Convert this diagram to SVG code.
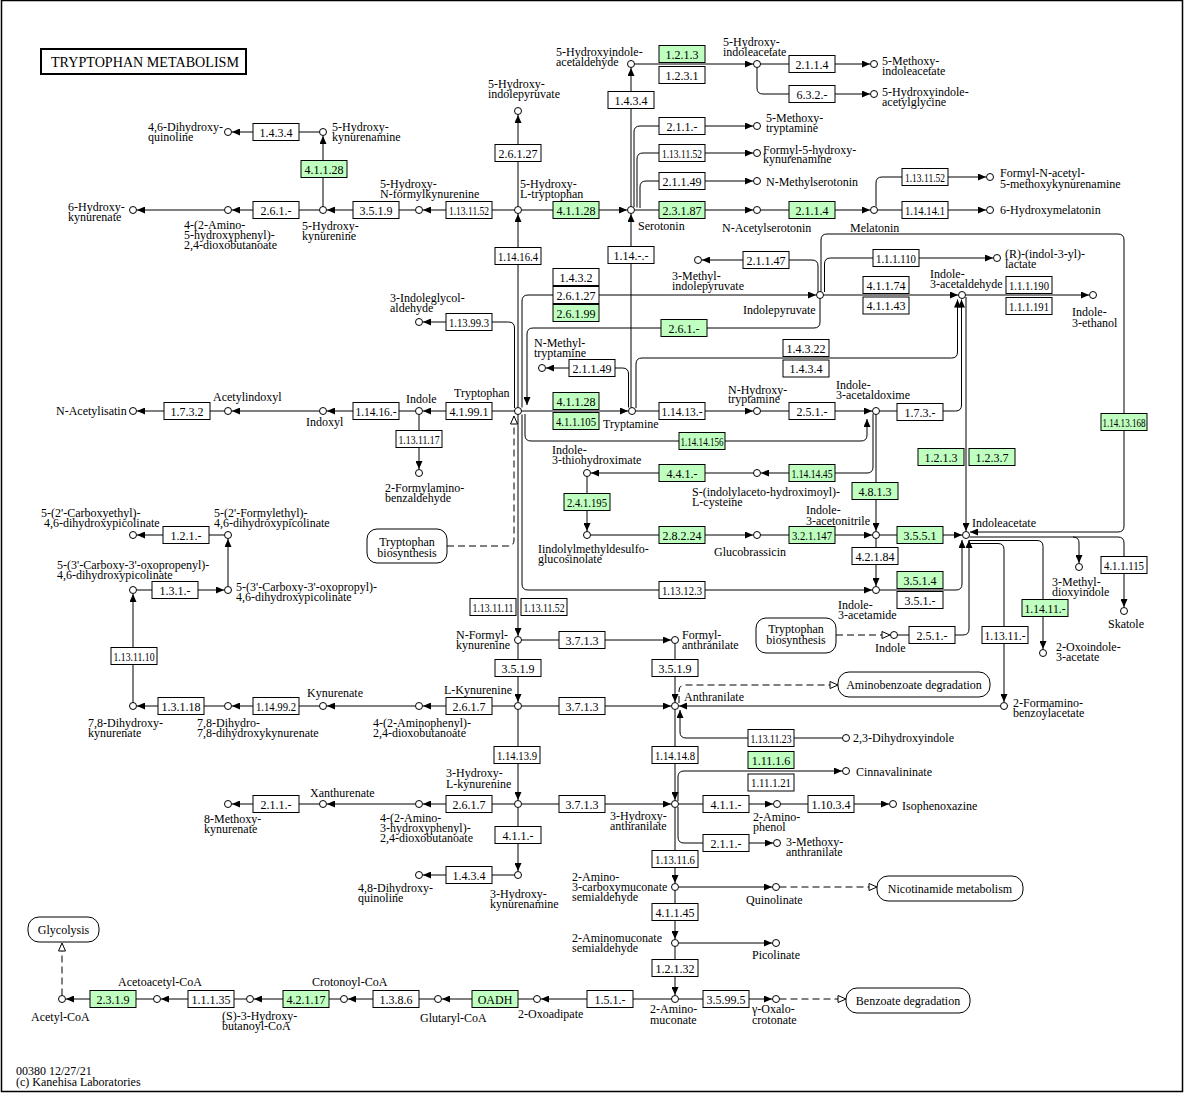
<svg xmlns="http://www.w3.org/2000/svg" width="1185" height="1093" viewBox="0 0 1185 1093">
<style>
text{font-family:"Liberation Serif","Times New Roman",serif;font-size:12px;fill:#000}
.n rect{fill:#fff;stroke:#000;stroke-width:1}
.n.g rect{fill:#bfffbf}
.n text{text-anchor:middle}
.c circle{fill:#fff;stroke:#000;stroke-width:1}
.m rect{fill:#fff;stroke:#000;stroke-width:1}
.m text{text-anchor:middle}
.l{fill:none;stroke:#000;stroke-width:1}
.d{stroke-dasharray:7,4}
.a{marker-end:url(#a)}
.o{marker-end:url(#o)}
</style>
<defs>
<marker id="a" viewBox="0 0 8 7" refX="8" refY="3.5" markerWidth="8" markerHeight="7" markerUnits="userSpaceOnUse" orient="auto"><path d="M0,0L8,3.5L0,7z" fill="#000"/></marker>
<marker id="o" viewBox="-1 -1 10 9" refX="8" refY="3.5" markerWidth="10" markerHeight="9" markerUnits="userSpaceOnUse" orient="auto"><path d="M0,0L8,3.5L0,7z" fill="#fff" stroke="#000" stroke-width="1"/></marker>
</defs>
<rect x="1.5" y="0.5" width="1181" height="1091" fill="#fff" stroke="#000" stroke-width="1.5"/>
<g id="title"><rect x="41" y="49" width="205" height="25" fill="#fff" stroke="#000" stroke-width="2"/><text x="51" y="67" style="font-size:14px" textLength="188" lengthAdjust="spacingAndGlyphs">TRYPTOPHAN METABOLISM</text></g>
<g id="connectors">
<path class="l a" d="M253,132H232"/>
<path class="l" d="M299,132H319.5"/>
<path class="l a" d="M323,206.5V136"/>
<path class="l a" d="M253,210H232"/>
<path class="l" d="M299,210H319.5"/>
<path class="l a" d="M224.5,210H137"/>
<path class="l a" d="M353,210H327"/>
<path class="l" d="M399,210H415.5"/>
<path class="l a" d="M446,210H423"/>
<path class="l" d="M492,210H514.5"/>
<path class="l a" d="M518,407.5V214"/>
<path class="l a" d="M518,206.5V115"/>
<path class="l a" d="M521.5,210H627"/>
<path class="l a" d="M631,206.5V68"/>
<path class="l a" d="M634.5,64H753"/>
<path class="l a" d="M760.5,64H870"/>
<path class="l a" d="M757,67.5V88Q757,94 763,94H870"/>
<path class="l a" d="M634,207V132Q634,126 640,126H753"/>
<path class="l a" d="M637,207.5V159Q637,153 643,153H753"/>
<path class="l a" d="M640,208V187Q640,181 646,181H753"/>
<path class="l a" d="M634.5,210H753"/>
<path class="l a" d="M760.5,210H870"/>
<path class="l a" d="M877.5,210H986"/>
<path class="l a" d="M876,206.5V183Q876,177 882,177H986"/>
<path class="l a" d="M631,407.5V214"/>
<path class="l a" d="M818,292V266Q818,260 812,260H702"/>
<path class="l a" d="M821,291.5V240Q821,234 827,234H1118Q1124,234 1124,240V526Q1124,532 1118,532H970"/>
<path class="l a" d="M824.5,292V264Q824.5,258 830.5,258H993"/>
<path class="l a" d="M823.5,295H958"/>
<path class="l a" d="M965.5,295H1089"/>
<path class="l a" d="M522,407.5V301Q522,295 528,295H816"/>
<path class="l a" d="M820,298.5V322Q820,328 814,328H533Q527,328 527,334V405"/>
<path class="l a" d="M514.5,408V328Q514.5,322 508.5,322H423"/>
<path class="l a" d="M628.5,407.5V374Q628.5,368 622.5,368H546"/>
<path class="l a" d="M636,408V364Q636,358 642,358H951.5Q957.5,358 957.5,352V299.5"/>
<path class="l a" d="M521.5,411H628"/>
<path class="l a" d="M635.5,411H753"/>
<path class="l a" d="M760.5,411H872"/>
<path class="l a" d="M879.5,411H955.5Q961.5,411 961.5,405V299.5"/>
<path class="l a" d="M966,297V531"/>
<path class="l a" d="M873,414V467Q873,473 867,473H761"/>
<path class="l a" d="M753.5,473H591"/>
<path class="l a" d="M876,414.5V531"/>
<path class="l a" d="M525,414V435Q525,441 531,441H861Q867,441 867,435V419"/>
<path class="l a" d="M587,476.5V531"/>
<path class="l a" d="M590.5,535H753"/>
<path class="l a" d="M760.5,535H872"/>
<path class="l a" d="M879.5,535H962"/>
<path class="l a" d="M876,538.5V586"/>
<path class="l a" d="M522,414.5V584Q522,590 528,590H872"/>
<path class="l a" d="M879.5,590H956Q962,590 962,584V540"/>
<path class="l a" d="M897.5,635H963Q969,635 969,629V540"/>
<path class="l d o" d="M836,635H890"/>
<path class="l a" d="M969.5,537H1118Q1124,537 1124,543V607"/>
<path class="l a" d="M1073,537Q1079,537 1079,543V563"/>
<path class="l a" d="M969,540.5H1037Q1043,540.5 1043,546.5V649"/>
<path class="l a" d="M968.5,543.5H998Q1004,543.5 1004,549.5V702"/>
<path class="l a" d="M1000.5,706H679"/>
<path class="l a" d="M514.5,411H423"/>
<path class="l a" d="M415.5,411H327"/>
<path class="l a" d="M319.5,411H232"/>
<path class="l a" d="M224.5,411H137"/>
<path class="l a" d="M419,414.5V469"/>
<path class="l d o" d="M447,546H508Q514,546 514,540V416"/>
<path class="l a" d="M224.5,535H137"/>
<path class="l a" d="M228,586.5V539"/>
<path class="l a" d="M136.5,590H224"/>
<path class="l a" d="M133,702.5V594"/>
<path class="l a" d="M224.5,706H137"/>
<path class="l a" d="M319.5,706H232"/>
<path class="l a" d="M415.5,706H327"/>
<path class="l a" d="M514.5,706H423"/>
<path class="l a" d="M518,414.5V636"/>
<path class="l a" d="M521.5,640H671"/>
<path class="l a" d="M518,643.5V702"/>
<path class="l a" d="M675,643.5V702"/>
<path class="l a" d="M521.5,706H671"/>
<path class="l d o" d="M679,703V691Q679,685 685,685H838"/>
<path class="l a" d="M842.5,738H686Q680,738 680,732V710"/>
<path class="l a" d="M675,709.5V800"/>
<path class="l a" d="M521.5,804H671"/>
<path class="l a" d="M518,709.5V800"/>
<path class="l a" d="M514.5,804H423"/>
<path class="l a" d="M415.5,804H327"/>
<path class="l a" d="M319.5,804H232"/>
<path class="l a" d="M518,807.5V871"/>
<path class="l a" d="M514.5,875H423"/>
<path class="l a" d="M678,801V777Q678,771 684,771H842"/>
<path class="l a" d="M678.5,804H773"/>
<path class="l a" d="M780.5,804H889"/>
<path class="l a" d="M678,807V837Q678,843 684,843H773"/>
<path class="l a" d="M675,807.5V883"/>
<path class="l a" d="M678.5,887H772"/>
<path class="l d o" d="M779.5,887H877"/>
<path class="l a" d="M675,890.5V939"/>
<path class="l a" d="M678.5,943H772"/>
<path class="l a" d="M675,946.5V995"/>
<path class="l a" d="M678.5,999H772"/>
<path class="l d o" d="M779.5,999H846"/>
<path class="l a" d="M671.5,999H541"/>
<path class="l a" d="M533.5,999H442"/>
<path class="l a" d="M434.5,999H348"/>
<path class="l a" d="M340.5,999H254"/>
<path class="l a" d="M246.5,999H161"/>
<path class="l a" d="M153.5,999H66"/>
<path class="l d o" d="M62,995.5V943"/>
</g>
<g id="enzymes">
<g id="e1" class="n"><rect x="253" y="123.5" width="46" height="17"/><text x="276" y="136.5">1.4.3.4</text></g>
<g id="e2" class="n"><rect x="253" y="201.5" width="46" height="17"/><text x="276" y="214.5">2.6.1.-</text></g>
<g id="e3" class="n g"><rect x="301" y="160.5" width="46" height="17"/><text x="324" y="173.5">4.1.1.28</text></g>
<g id="e4" class="n"><rect x="353" y="201.5" width="46" height="17"/><text x="376" y="214.5">3.5.1.9</text></g>
<g id="e5" class="n"><rect x="446" y="201.5" width="46" height="17"/><text x="469" y="214.5" textLength="40" lengthAdjust="spacingAndGlyphs">1.13.11.52</text></g>
<g id="e6" class="n g"><rect x="553" y="201.5" width="46" height="17"/><text x="576" y="214.5">4.1.1.28</text></g>
<g id="e7" class="n"><rect x="495" y="144.5" width="46" height="17"/><text x="518" y="157.5">2.6.1.27</text></g>
<g id="e8" class="n"><rect x="495" y="247.5" width="46" height="17"/><text x="518" y="260.5" textLength="40" lengthAdjust="spacingAndGlyphs">1.14.16.4</text></g>
<g id="e9" class="n g"><rect x="659" y="45.5" width="46" height="17"/><text x="682" y="58.5">1.2.1.3</text></g>
<g id="e10" class="n"><rect x="659" y="66.5" width="46" height="17"/><text x="682" y="79.5">1.2.3.1</text></g>
<g id="e11" class="n"><rect x="608" y="91.5" width="46" height="17"/><text x="631" y="104.5">1.4.3.4</text></g>
<g id="e12" class="n"><rect x="789" y="55.5" width="46" height="17"/><text x="812" y="68.5">2.1.1.4</text></g>
<g id="e13" class="n"><rect x="789" y="85.5" width="46" height="17"/><text x="812" y="98.5">6.3.2.-</text></g>
<g id="e14" class="n"><rect x="659" y="117.5" width="46" height="17"/><text x="682" y="130.5">2.1.1.-</text></g>
<g id="e15" class="n"><rect x="659" y="144.5" width="46" height="17"/><text x="682" y="157.5" textLength="40" lengthAdjust="spacingAndGlyphs">1.13.11.52</text></g>
<g id="e16" class="n"><rect x="659" y="172.5" width="46" height="17"/><text x="682" y="185.5">2.1.1.49</text></g>
<g id="e17" class="n g"><rect x="659" y="201.5" width="46" height="17"/><text x="682" y="214.5">2.3.1.87</text></g>
<g id="e18" class="n g"><rect x="789" y="201.5" width="46" height="17"/><text x="812" y="214.5">2.1.1.4</text></g>
<g id="e19" class="n"><rect x="902" y="168.5" width="46" height="17"/><text x="925" y="181.5" textLength="40" lengthAdjust="spacingAndGlyphs">1.13.11.52</text></g>
<g id="e20" class="n"><rect x="902" y="201.5" width="46" height="17"/><text x="925" y="214.5" textLength="40" lengthAdjust="spacingAndGlyphs">1.14.14.1</text></g>
<g id="e21" class="n"><rect x="608" y="246.5" width="46" height="17"/><text x="631" y="259.5">1.14.-.-</text></g>
<g id="e22" class="n"><rect x="743" y="251.5" width="46" height="17"/><text x="766" y="264.5">2.1.1.47</text></g>
<g id="e23" class="n"><rect x="553" y="268.5" width="46" height="17"/><text x="576" y="281.5">1.4.3.2</text></g>
<g id="e24" class="n"><rect x="553" y="286.5" width="46" height="17"/><text x="576" y="299.5">2.6.1.27</text></g>
<g id="e25" class="n g"><rect x="553" y="304.5" width="46" height="17"/><text x="576" y="317.5">2.6.1.99</text></g>
<g id="e26" class="n g"><rect x="661" y="319.5" width="46" height="17"/><text x="684" y="332.5">2.6.1.-</text></g>
<g id="e27" class="n"><rect x="446" y="313.5" width="46" height="17"/><text x="469" y="326.5" textLength="40" lengthAdjust="spacingAndGlyphs">1.13.99.3</text></g>
<g id="e28" class="n"><rect x="873" y="249.5" width="46" height="17"/><text x="896" y="262.5" textLength="40" lengthAdjust="spacingAndGlyphs">1.1.1.110</text></g>
<g id="e29" class="n"><rect x="863" y="276.5" width="46" height="17"/><text x="886" y="289.5">4.1.1.74</text></g>
<g id="e30" class="n"><rect x="863" y="297" width="46" height="17"/><text x="886" y="310">4.1.1.43</text></g>
<g id="e31" class="n"><rect x="1006" y="276.5" width="46" height="17"/><text x="1029" y="289.5" textLength="40" lengthAdjust="spacingAndGlyphs">1.1.1.190</text></g>
<g id="e32" class="n"><rect x="1006" y="297.5" width="46" height="17"/><text x="1029" y="310.5" textLength="40" lengthAdjust="spacingAndGlyphs">1.1.1.191</text></g>
<g id="e33" class="n"><rect x="783" y="339.5" width="46" height="17"/><text x="806" y="352.5">1.4.3.22</text></g>
<g id="e34" class="n"><rect x="783" y="360" width="46" height="17"/><text x="806" y="373">1.4.3.4</text></g>
<g id="e35" class="n"><rect x="569" y="359.5" width="46" height="17"/><text x="592" y="372.5">2.1.1.49</text></g>
<g id="e36" class="n g"><rect x="553" y="392.5" width="46" height="17"/><text x="576" y="405.5">4.1.1.28</text></g>
<g id="e37" class="n g"><rect x="553" y="412.5" width="46" height="17"/><text x="576" y="425.5" textLength="40" lengthAdjust="spacingAndGlyphs">4.1.1.105</text></g>
<g id="e38" class="n"><rect x="659" y="402.5" width="46" height="17"/><text x="682" y="415.5" textLength="41" lengthAdjust="spacingAndGlyphs">1.14.13.-</text></g>
<g id="e39" class="n"><rect x="789" y="402.5" width="46" height="17"/><text x="812" y="415.5">2.5.1.-</text></g>
<g id="e40" class="n"><rect x="897" y="403.5" width="46" height="17"/><text x="920" y="416.5">1.7.3.-</text></g>
<g id="e41" class="n g"><rect x="679" y="432.5" width="46" height="17"/><text x="702" y="445.5" textLength="43" lengthAdjust="spacingAndGlyphs">1.14.14.156</text></g>
<g id="e42" class="n g"><rect x="1101" y="413.5" width="46" height="17"/><text x="1124" y="426.5" textLength="43" lengthAdjust="spacingAndGlyphs">1.14.13.168</text></g>
<g id="e43" class="n g"><rect x="918" y="448.5" width="46" height="17"/><text x="941" y="461.5">1.2.1.3</text></g>
<g id="e44" class="n g"><rect x="969" y="448.5" width="46" height="17"/><text x="992" y="461.5">1.2.3.7</text></g>
<g id="e45" class="n g"><rect x="659" y="464.5" width="46" height="17"/><text x="682" y="477.5">4.4.1.-</text></g>
<g id="e46" class="n g"><rect x="789" y="464.5" width="46" height="17"/><text x="812" y="477.5" textLength="41" lengthAdjust="spacingAndGlyphs">1.14.14.45</text></g>
<g id="e47" class="n g"><rect x="852" y="482.5" width="46" height="17"/><text x="875" y="495.5">4.8.1.3</text></g>
<g id="e48" class="n g"><rect x="564" y="493.5" width="46" height="17"/><text x="587" y="506.5" textLength="40" lengthAdjust="spacingAndGlyphs">2.4.1.195</text></g>
<g id="e49" class="n g"><rect x="659" y="526.5" width="46" height="17"/><text x="682" y="539.5">2.8.2.24</text></g>
<g id="e50" class="n g"><rect x="789" y="526.5" width="46" height="17"/><text x="812" y="539.5" textLength="40" lengthAdjust="spacingAndGlyphs">3.2.1.147</text></g>
<g id="e51" class="n g"><rect x="897" y="526.5" width="46" height="17"/><text x="920" y="539.5">3.5.5.1</text></g>
<g id="e52" class="n"><rect x="852" y="547.5" width="46" height="17"/><text x="875" y="560.5">4.2.1.84</text></g>
<g id="e53" class="n g"><rect x="897" y="571.5" width="46" height="17"/><text x="920" y="584.5">3.5.1.4</text></g>
<g id="e54" class="n"><rect x="897" y="591.5" width="46" height="17"/><text x="920" y="604.5">3.5.1.-</text></g>
<g id="e55" class="n"><rect x="659" y="581.5" width="46" height="17"/><text x="682" y="594.5" textLength="40" lengthAdjust="spacingAndGlyphs">1.13.12.3</text></g>
<g id="e56" class="n"><rect x="1101" y="556.5" width="46" height="17"/><text x="1124" y="569.5" textLength="40" lengthAdjust="spacingAndGlyphs">4.1.1.115</text></g>
<g id="e57" class="n g"><rect x="1022" y="599.5" width="46" height="17"/><text x="1045" y="612.5" textLength="41" lengthAdjust="spacingAndGlyphs">1.14.11.-</text></g>
<g id="e58" class="n"><rect x="982" y="626.5" width="46" height="17"/><text x="1005" y="639.5" textLength="41" lengthAdjust="spacingAndGlyphs">1.13.11.-</text></g>
<g id="e59" class="n"><rect x="909" y="626.5" width="46" height="17"/><text x="932" y="639.5">2.5.1.-</text></g>
<g id="e60" class="n"><rect x="353" y="402.5" width="46" height="17"/><text x="376" y="415.5" textLength="41" lengthAdjust="spacingAndGlyphs">1.14.16.-</text></g>
<g id="e61" class="n"><rect x="446" y="402.5" width="46" height="17"/><text x="469" y="415.5">4.1.99.1</text></g>
<g id="e62" class="n"><rect x="164" y="402.5" width="46" height="17"/><text x="187" y="415.5">1.7.3.2</text></g>
<g id="e63" class="n"><rect x="396" y="430.5" width="46" height="17"/><text x="419" y="443.5" textLength="41" lengthAdjust="spacingAndGlyphs">1.13.11.17</text></g>
<g id="e64" class="n"><rect x="163" y="526.5" width="46" height="17"/><text x="186" y="539.5">1.2.1.-</text></g>
<g id="e65" class="n"><rect x="152" y="581.5" width="46" height="17"/><text x="175" y="594.5">1.3.1.-</text></g>
<g id="e66" class="n"><rect x="111" y="647.5" width="46" height="17"/><text x="134" y="660.5" textLength="41" lengthAdjust="spacingAndGlyphs">1.13.11.10</text></g>
<g id="e67" class="n"><rect x="470" y="598.5" width="46" height="17"/><text x="493" y="611.5" textLength="41" lengthAdjust="spacingAndGlyphs">1.13.11.11</text></g>
<g id="e68" class="n"><rect x="521" y="598.5" width="46" height="17"/><text x="544" y="611.5" textLength="41" lengthAdjust="spacingAndGlyphs">1.13.11.52</text></g>
<g id="e69" class="n"><rect x="559" y="631.5" width="46" height="17"/><text x="582" y="644.5">3.7.1.3</text></g>
<g id="e70" class="n"><rect x="495" y="659.5" width="46" height="17"/><text x="518" y="672.5">3.5.1.9</text></g>
<g id="e71" class="n"><rect x="652" y="659.5" width="46" height="17"/><text x="675" y="672.5">3.5.1.9</text></g>
<g id="e72" class="n"><rect x="559" y="697.5" width="46" height="17"/><text x="582" y="710.5">3.7.1.3</text></g>
<g id="e73" class="n"><rect x="446" y="697.5" width="46" height="17"/><text x="469" y="710.5">2.6.1.7</text></g>
<g id="e74" class="n"><rect x="253" y="697.5" width="46" height="17"/><text x="276" y="710.5" textLength="40" lengthAdjust="spacingAndGlyphs">1.14.99.2</text></g>
<g id="e75" class="n"><rect x="158" y="697.5" width="46" height="17"/><text x="181" y="710.5">1.3.1.18</text></g>
<g id="e76" class="n"><rect x="748" y="729.5" width="46" height="17"/><text x="771" y="742.5" textLength="41" lengthAdjust="spacingAndGlyphs">1.13.11.23</text></g>
<g id="e77" class="n"><rect x="652" y="746.5" width="46" height="17"/><text x="675" y="759.5" textLength="40" lengthAdjust="spacingAndGlyphs">1.14.14.8</text></g>
<g id="e78" class="n g"><rect x="748" y="751.5" width="46" height="17"/><text x="771" y="764.5">1.11.1.6</text></g>
<g id="e79" class="n"><rect x="748" y="774" width="46" height="17"/><text x="771" y="787" textLength="40" lengthAdjust="spacingAndGlyphs">1.11.1.21</text></g>
<g id="e80" class="n"><rect x="494" y="746.5" width="46" height="17"/><text x="517" y="759.5" textLength="40" lengthAdjust="spacingAndGlyphs">1.14.13.9</text></g>
<g id="e81" class="n"><rect x="446" y="795.5" width="46" height="17"/><text x="469" y="808.5">2.6.1.7</text></g>
<g id="e82" class="n"><rect x="253" y="795.5" width="46" height="17"/><text x="276" y="808.5">2.1.1.-</text></g>
<g id="e83" class="n"><rect x="559" y="795.5" width="46" height="17"/><text x="582" y="808.5">3.7.1.3</text></g>
<g id="e84" class="n"><rect x="703" y="795.5" width="46" height="17"/><text x="726" y="808.5">4.1.1.-</text></g>
<g id="e85" class="n"><rect x="808" y="795.5" width="46" height="17"/><text x="831" y="808.5">1.10.3.4</text></g>
<g id="e86" class="n"><rect x="703" y="834.5" width="46" height="17"/><text x="726" y="847.5">2.1.1.-</text></g>
<g id="e87" class="n"><rect x="495" y="826.5" width="46" height="17"/><text x="518" y="839.5">4.1.1.-</text></g>
<g id="e88" class="n"><rect x="446" y="866.5" width="46" height="17"/><text x="469" y="879.5">1.4.3.4</text></g>
<g id="e89" class="n"><rect x="652" y="850.5" width="46" height="17"/><text x="675" y="863.5" textLength="40" lengthAdjust="spacingAndGlyphs">1.13.11.6</text></g>
<g id="e90" class="n"><rect x="652" y="903.5" width="46" height="17"/><text x="675" y="916.5">4.1.1.45</text></g>
<g id="e91" class="n"><rect x="652" y="959.5" width="46" height="17"/><text x="675" y="972.5">1.2.1.32</text></g>
<g id="e92" class="n"><rect x="587" y="990.5" width="46" height="17"/><text x="610" y="1003.5">1.5.1.-</text></g>
<g id="e93" class="n"><rect x="703" y="990.5" width="46" height="17"/><text x="726" y="1003.5">3.5.99.5</text></g>
<g id="e94" class="n g"><rect x="472" y="990.5" width="46" height="17"/><text x="495" y="1003.5">OADH</text></g>
<g id="e95" class="n"><rect x="373" y="990.5" width="46" height="17"/><text x="396" y="1003.5">1.3.8.6</text></g>
<g id="e96" class="n g"><rect x="283" y="990.5" width="46" height="17"/><text x="306" y="1003.5">4.2.1.17</text></g>
<g id="e97" class="n"><rect x="188" y="990.5" width="46" height="17"/><text x="211" y="1003.5">1.1.1.35</text></g>
<g id="e98" class="n g"><rect x="90" y="990.5" width="46" height="17"/><text x="113" y="1003.5">2.3.1.9</text></g>
</g>
<g id="compounds">
<g id="c1" class="c"><circle cx="228" cy="132" r="3.5"/><text x="148" y="131">4,6-Dihydroxy-<tspan x="148" y="141">quinoline</tspan></text></g>
<g id="c2" class="c"><circle cx="323" cy="132" r="3.5"/><text x="332" y="131">5-Hydroxy-<tspan x="332" y="141">kynurenamine</tspan></text></g>
<g id="c3" class="c"><circle cx="133" cy="210" r="3.5"/><text x="68" y="211">6-Hydroxy-<tspan x="68" y="221">kynurenate</tspan></text></g>
<g id="c4" class="c"><circle cx="228" cy="210" r="3.5"/><text x="184" y="229">4-(2-Amino-<tspan x="184" y="239">5-hydroxyphenyl)-</tspan><tspan x="184" y="249">2,4-dioxobutanoate</tspan></text></g>
<g id="c5" class="c"><circle cx="323" cy="210" r="3.5"/><text x="302" y="230">5-Hydroxy-<tspan x="302" y="240">kynurenine</tspan></text></g>
<g id="c6" class="c"><circle cx="419" cy="210" r="3.5"/><text x="380" y="188">5-Hydroxy-<tspan x="380" y="198">N-formylkynurenine</tspan></text></g>
<g id="c7" class="c"><circle cx="518" cy="210" r="3.5"/><text x="520" y="188">5-Hydroxy-<tspan x="520" y="198">L-tryptophan</tspan></text></g>
<g id="c8" class="c"><circle cx="518" cy="111" r="3.5"/><text x="488" y="88">5-Hydroxy-<tspan x="488" y="98">indolepyruvate</tspan></text></g>
<g id="c9" class="c"><circle cx="631" cy="64" r="3.5"/><text x="556" y="56">5-Hydroxyindole-<tspan x="556" y="66">acetaldehyde</tspan></text></g>
<g id="c10" class="c"><circle cx="757" cy="64" r="3.5"/><text x="723" y="46">5-Hydroxy-<tspan x="723" y="56">indoleacetate</tspan></text></g>
<g id="c11" class="c"><circle cx="874" cy="64" r="3.5"/><text x="882" y="65">5-Methoxy-<tspan x="882" y="75">indoleacetate</tspan></text></g>
<g id="c12" class="c"><circle cx="874" cy="94" r="3.5"/><text x="882" y="96">5-Hydroxyindole-<tspan x="882" y="106">acetylglycine</tspan></text></g>
<g id="c13" class="c"><circle cx="757" cy="126" r="3.5"/><text x="766" y="122">5-Methoxy-<tspan x="766" y="132">tryptamine</tspan></text></g>
<g id="c14" class="c"><circle cx="757" cy="153" r="3.5"/><text x="763" y="154">Formyl-5-hydroxy-<tspan x="763" y="163">kynurenamine</tspan></text></g>
<g id="c15" class="c"><circle cx="757" cy="181" r="3.5"/><text x="766" y="186">N-Methylserotonin</text></g>
<g id="c16" class="c"><circle cx="631" cy="210" r="3.5"/><text x="638" y="230">Serotonin</text></g>
<g id="c17" class="c"><circle cx="757" cy="210" r="3.5"/><text x="722" y="232">N-Acetylserotonin</text></g>
<g id="c18" class="c"><circle cx="874" cy="210" r="3.5"/><text x="850" y="232">Melatonin</text></g>
<g id="c19" class="c"><circle cx="990" cy="177" r="3.5"/><text x="1000" y="177">Formyl-N-acetyl-<tspan x="1000" y="188">5-methoxykynurenamine</tspan></text></g>
<g id="c20" class="c"><circle cx="990" cy="210" r="3.5"/><text x="1000" y="214">6-Hydroxymelatonin</text></g>
<g id="c21" class="c"><circle cx="698" cy="260" r="3.5"/><text x="672" y="280">3-Methyl-<tspan x="672" y="290">indolepyruvate</tspan></text></g>
<g id="c22" class="c"><circle cx="820" cy="295" r="3.5"/><text x="743" y="314">Indolepyruvate</text></g>
<g id="c23" class="c"><circle cx="997" cy="258" r="3.5"/><text x="1005" y="258">(R)-(indol-3-yl)-<tspan x="1005" y="268">lactate</tspan></text></g>
<g id="c24" class="c"><circle cx="962" cy="295" r="3.5"/><text x="930" y="278">Indole-<tspan x="930" y="288">3-acetaldehyde</tspan></text></g>
<g id="c25" class="c"><circle cx="1093" cy="295" r="3.5"/><text x="1072" y="316">Indole-<tspan x="1072" y="327">3-ethanol</tspan></text></g>
<g id="c26" class="c"><circle cx="419" cy="322" r="3.5"/><text x="390" y="302">3-Indoleglycol-<tspan x="390" y="312">aldehyde</tspan></text></g>
<g id="c27" class="c"><circle cx="542" cy="368" r="3.5"/><text x="534" y="347">N-Methyl-<tspan x="534" y="357">tryptamine</tspan></text></g>
<g id="c28" class="c"><circle cx="518" cy="411" r="3.5"/><text x="454" y="397">Tryptophan</text></g>
<g id="c29" class="c"><circle cx="632" cy="411" r="3.5"/><text x="603" y="428">Tryptamine</text></g>
<g id="c30" class="c"><circle cx="757" cy="411" r="3.5"/><text x="728" y="394">N-Hydroxy-<tspan x="728" y="403">tryptamine</tspan></text></g>
<g id="c31" class="c"><circle cx="876" cy="411" r="3.5"/><text x="836" y="389">Indole-<tspan x="836" y="399">3-acetaldoxime</tspan></text></g>
<g id="c32" class="c"><circle cx="419" cy="411" r="3.5"/><text x="406" y="403">Indole</text></g>
<g id="c33" class="c"><circle cx="323" cy="411" r="3.5"/><text x="306" y="426">Indoxyl</text></g>
<g id="c34" class="c"><circle cx="228" cy="411" r="3.5"/><text x="213" y="401">Acetylindoxyl</text></g>
<g id="c35" class="c"><circle cx="133" cy="411" r="3.5"/><text x="56" y="415">N-Acetylisatin</text></g>
<g id="c36" class="c"><circle cx="419" cy="473" r="3.5"/><text x="385" y="492">2-Formylamino-<tspan x="385" y="502">benzaldehyde</tspan></text></g>
<g id="c37" class="c"><circle cx="587" cy="473" r="3.5"/><text x="552" y="454">Indole-<tspan x="552" y="464">3-thiohydroximate</tspan></text></g>
<g id="c38" class="c"><circle cx="757" cy="473" r="3.5"/><text x="692" y="496">S-(indolylaceto-hydroximoyl)-<tspan x="692" y="506">L-cysteine</tspan></text></g>
<g id="c39" class="c"><circle cx="587" cy="535" r="3.5"/><text x="538" y="553">Iindolylmethyldesulfo-<tspan x="538" y="563">glucosinolate</tspan></text></g>
<g id="c40" class="c"><circle cx="757" cy="535" r="3.5"/><text x="714" y="556">Glucobrassicin</text></g>
<g id="c41" class="c"><circle cx="876" cy="535" r="3.5"/><text x="806" y="514">Indole-<tspan x="806" y="525">3-acetonitrile</tspan></text></g>
<g id="c42" class="c"><circle cx="966" cy="535" r="3.5"/><text x="972" y="527">Indoleacetate</text></g>
<g id="c43" class="c"><circle cx="876" cy="590" r="3.5"/><text x="838" y="609">Indole-<tspan x="838" y="619">3-acetamide</tspan></text></g>
<g id="c44" class="c"><circle cx="1079" cy="567" r="3.5"/><text x="1052" y="586">3-Methyl-<tspan x="1052" y="596">dioxyindole</tspan></text></g>
<g id="c45" class="c"><circle cx="1124" cy="611" r="3.5"/><text x="1108" y="628">Skatole</text></g>
<g id="c46" class="c"><circle cx="894" cy="635" r="3.5"/><text x="875" y="652">Indole</text></g>
<g id="c47" class="c"><circle cx="1043" cy="653" r="3.5"/><text x="1056" y="651">2-Oxoindole-<tspan x="1056" y="661">3-acetate</tspan></text></g>
<g id="c48" class="c"><circle cx="1004" cy="706" r="3.5"/><text x="1013" y="707">2-Formamino-<tspan x="1013" y="717">benzoylacetate</tspan></text></g>
<g id="c49" class="c"><circle cx="133" cy="535" r="3.5"/><text x="41" y="517">5-(2'-Carboxyethyl)-<tspan x="44" y="527">4,6-dihydroxypicolinate</tspan></text></g>
<g id="c50" class="c"><circle cx="228" cy="535" r="3.5"/><text x="214" y="517">5-(2'-Formylethyl)-<tspan x="214" y="527">4,6-dihydroxypicolinate</tspan></text></g>
<g id="c51" class="c"><circle cx="133" cy="590" r="3.5"/><text x="57" y="569">5-(3'-Carboxy-3'-oxopropenyl)-<tspan x="57" y="579">4,6-dihydroxypicolinate</tspan></text></g>
<g id="c52" class="c"><circle cx="228" cy="590" r="3.5"/><text x="236" y="591">5-(3'-Carboxy-3'-oxopropyl)-<tspan x="236" y="601">4,6-dihydroxypicolinate</tspan></text></g>
<g id="c53" class="c"><circle cx="518" cy="640" r="3.5"/><text x="456" y="639">N-Formyl-<tspan x="456" y="649">kynurenine</tspan></text></g>
<g id="c54" class="c"><circle cx="675" cy="640" r="3.5"/><text x="682" y="639">Formyl-<tspan x="682" y="649">anthranilate</tspan></text></g>
<g id="c55" class="c"><circle cx="518" cy="706" r="3.5"/><text x="444" y="694">L-Kynurenine</text></g>
<g id="c56" class="c"><circle cx="675" cy="706" r="3.5"/><text x="684" y="701">Anthranilate</text></g>
<g id="c57" class="c"><circle cx="419" cy="706" r="3.5"/><text x="373" y="727">4-(2-Aminophenyl)-<tspan x="373" y="737">2,4-dioxobutanoate</tspan></text></g>
<g id="c58" class="c"><circle cx="323" cy="706" r="3.5"/><text x="307" y="697">Kynurenate</text></g>
<g id="c59" class="c"><circle cx="228" cy="706" r="3.5"/><text x="197" y="727">7,8-Dihydro-<tspan x="197" y="737">7,8-dihydroxykynurenate</tspan></text></g>
<g id="c60" class="c"><circle cx="133" cy="706" r="3.5"/><text x="88" y="727">7,8-Dihydroxy-<tspan x="88" y="737">kynurenate</tspan></text></g>
<g id="c61" class="c"><circle cx="846" cy="738" r="3.5"/><text x="853" y="742">2,3-Dihydroxyindole</text></g>
<g id="c62" class="c"><circle cx="846" cy="771" r="3.5"/><text x="856" y="776">Cinnavalininate</text></g>
<g id="c63" class="c"><circle cx="518" cy="804" r="3.5"/><text x="446" y="777">3-Hydroxy-<tspan x="446" y="788">L-kynurenine</tspan></text></g>
<g id="c64" class="c"><circle cx="419" cy="804" r="3.5"/><text x="380" y="822">4-(2-Amino-<tspan x="380" y="832">3-hydroxyphenyl)-</tspan><tspan x="380" y="842">2,4-dioxobutanoate</tspan></text></g>
<g id="c65" class="c"><circle cx="323" cy="804" r="3.5"/><text x="310" y="797">Xanthurenate</text></g>
<g id="c66" class="c"><circle cx="228" cy="804" r="3.5"/><text x="204" y="823">8-Methoxy-<tspan x="204" y="833">kynurenate</tspan></text></g>
<g id="c67" class="c"><circle cx="675" cy="804" r="3.5"/><text x="610" y="820">3-Hydroxy-<tspan x="610" y="830">anthranilate</tspan></text></g>
<g id="c68" class="c"><circle cx="777" cy="804" r="3.5"/><text x="753" y="821">2-Amino-<tspan x="753" y="831">phenol</tspan></text></g>
<g id="c69" class="c"><circle cx="893" cy="804" r="3.5"/><text x="902" y="810">Isophenoxazine</text></g>
<g id="c70" class="c"><circle cx="777" cy="843" r="3.5"/><text x="786" y="846">3-Methoxy-<tspan x="786" y="856">anthranilate</tspan></text></g>
<g id="c71" class="c"><circle cx="518" cy="875" r="3.5"/><text x="490" y="898">3-Hydroxy-<tspan x="490" y="908">kynurenamine</tspan></text></g>
<g id="c72" class="c"><circle cx="419" cy="875" r="3.5"/><text x="358" y="892">4,8-Dihydroxy-<tspan x="358" y="902">quinoline</tspan></text></g>
<g id="c73" class="c"><circle cx="675" cy="887" r="3.5"/><text x="572" y="881">2-Amino-<tspan x="572" y="891">3-carboxymuconate</tspan><tspan x="572" y="901">semialdehyde</tspan></text></g>
<g id="c74" class="c"><circle cx="776" cy="887" r="3.5"/><text x="746" y="904">Quinolinate</text></g>
<g id="c75" class="c"><circle cx="675" cy="943" r="3.5"/><text x="572" y="942">2-Aminomuconate<tspan x="572" y="952">semialdehyde</tspan></text></g>
<g id="c76" class="c"><circle cx="776" cy="943" r="3.5"/><text x="752" y="959">Picolinate</text></g>
<g id="c77" class="c"><circle cx="675" cy="999" r="3.5"/><text x="650" y="1013">2-Amino-<tspan x="650" y="1024">muconate</tspan></text></g>
<g id="c78" class="c"><circle cx="776" cy="999" r="3.5"/><text x="752" y="1013">γ-Oxalo-<tspan x="752" y="1024">crotonate</tspan></text></g>
<g id="c79" class="c"><circle cx="537" cy="999" r="3.5"/><text x="518" y="1018">2-Oxoadipate</text></g>
<g id="c80" class="c"><circle cx="438" cy="999" r="3.5"/><text x="420" y="1022">Glutaryl-CoA</text></g>
<g id="c81" class="c"><circle cx="344" cy="999" r="3.5"/><text x="312" y="986">Crotonoyl-CoA</text></g>
<g id="c82" class="c"><circle cx="250" cy="999" r="3.5"/><text x="222" y="1020">(S)-3-Hydroxy-<tspan x="222" y="1030">butanoyl-CoA</tspan></text></g>
<g id="c83" class="c"><circle cx="157" cy="999" r="3.5"/><text x="118" y="986">Acetoacetyl-CoA</text></g>
<g id="c84" class="c"><circle cx="62" cy="999" r="3.5"/><text x="31" y="1021">Acetyl-CoA</text></g>
</g>
<g id="maps">
<g id="m1" class="m"><rect x="367" y="529" width="80" height="34" rx="10"/><text x="407" y="546">Tryptophan<tspan x="407" y="557">biosynthesis</tspan></text></g>
<g id="m2" class="m"><rect x="756" y="618" width="80" height="35" rx="10"/><text x="796" y="633">Tryptophan<tspan x="796" y="644">biosynthesis</tspan></text></g>
<g id="m3" class="m"><rect x="838" y="672" width="152" height="25" rx="11"/><text x="914" y="689">Aminobenzoate degradation</text></g>
<g id="m4" class="m"><rect x="877" y="876" width="146" height="25" rx="11"/><text x="950" y="893">Nicotinamide metabolism</text></g>
<g id="m5" class="m"><rect x="846" y="988" width="124" height="25" rx="11"/><text x="908" y="1005">Benzoate degradation</text></g>
<g id="m6" class="m"><rect x="28" y="917" width="71" height="25" rx="11"/><text x="63.5" y="934">Glycolysis</text></g>
</g>
<g id="footer"><text x="16" y="1075">00380 12/27/21</text><text x="16" y="1086">(c) Kanehisa Laboratories</text></g>
</svg>
